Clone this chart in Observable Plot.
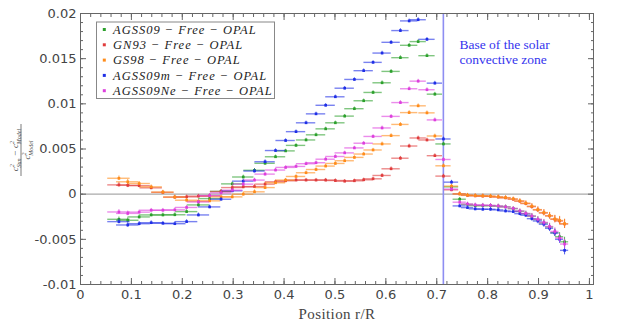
<!DOCTYPE html>
<html>
<head>
<meta charset="utf-8">
<script src="https://cdn.jsdelivr.net/npm/d3@7"></script>
<script src="https://cdn.jsdelivr.net/npm/@observablehq/plot@0.6"></script>
<style>
  html, body { margin: 0; padding: 0; background: #fff; }
  #chart { width: 623px; height: 322px; }
</style>
</head>
<body>
<div id="chart"></div>
<script>
// ---- data ----
const radius = [0.0755,0.0928,0.1153,0.1389,0.1619,0.1853,0.2085,0.2317,0.2537,0.2762,
  0.2982,0.3198,0.3419,0.3627,0.3832,0.4030,0.4235,0.4432,0.4628,0.4817,
  0.5008,0.5191,0.5382,0.5564,0.5749,0.5926,0.6103,0.6286,0.6458,0.6635,
  0.6808,0.6963,0.7132,0.7290,0.7451,0.7604,0.7756,0.7905,0.8057,0.8208,
  0.8352,0.8503,0.8633,0.8751,0.8869,0.8987,0.9105,0.9217,0.9321,0.9414,0.9512];

const agss09 = [-0.00278,-0.00289,-0.00252,-0.00230,-0.00230,-0.00228,-0.00193,-0.00119,-0.00049,0.00031,
  0.00114,0.00190,0.00264,0.00342,0.00414,0.00479,0.00540,0.00600,0.00657,0.00723,
  0.00790,0.00864,0.00946,0.01034,0.01126,0.01233,0.01359,0.01511,0.01648,0.01689,
  0.01533,0.01107,0.00556,0.00081,-0.00056,-0.00113,-0.00127,-0.00127,-0.00127,-0.00133,
  -0.00141,-0.00160,-0.00189,-0.00216,-0.00244,-0.00282,-0.00319,-0.00363,-0.00427,-0.00471,-0.00527];

const gn93 = [0.00103,0.00098,0.00094,0.00070,0.00020,-0.00033,-0.00030,-0.00022,-0.00019,0.00029,
  0.00073,0.00081,0.00084,0.00111,0.00137,0.00148,0.00156,0.00156,0.00156,0.00156,
  0.00151,0.00144,0.00148,0.00159,0.00170,0.00207,0.00281,0.00398,0.00533,0.00622,
  0.00600,0.00426,0.00200,0.00048,0.00003,-0.00013,-0.00019,-0.00021,-0.00024,-0.00032,
  -0.00041,-0.00056,-0.00078,-0.00104,-0.00138,-0.00174,-0.00208,-0.00241,-0.00278,-0.00297,-0.00330];

const gs98 = [0.00176,0.00137,0.00118,0.00081,0.00023,-0.00032,-0.00067,-0.00080,-0.00074,-0.00030,
  -0.00030,0.00000,0.00026,0.00073,0.00126,0.00156,0.00196,0.00237,0.00273,0.00311,
  0.00340,0.00370,0.00407,0.00444,0.00489,0.00556,0.00648,0.00772,0.00903,0.00978,
  0.00900,0.00644,0.00314,0.00089,0.00003,-0.00011,-0.00016,-0.00019,-0.00022,-0.00030,
  -0.00038,-0.00052,-0.00074,-0.00100,-0.00133,-0.00171,-0.00204,-0.00238,-0.00274,-0.00291,-0.00327];

const agss09m = [-0.00304,-0.00341,-0.00327,-0.00316,-0.00322,-0.00327,-0.00304,-0.00230,-0.00141,-0.00056,
  0.00037,0.00144,0.00256,0.00359,0.00483,0.00594,0.00692,0.00790,0.00889,0.00984,
  0.01078,0.01173,0.01270,0.01367,0.01459,0.01562,0.01681,0.01811,0.01918,0.01931,
  0.01714,0.01229,0.00611,0.00133,-0.00130,-0.00149,-0.00163,-0.00167,-0.00167,-0.00174,
  -0.00186,-0.00193,-0.00216,-0.00233,-0.00271,-0.00297,-0.00333,-0.00378,-0.00430,-0.00500,-0.00622];

const agss09ne = [-0.00197,-0.00213,-0.00199,-0.00178,-0.00178,-0.00174,-0.00147,-0.00086,-0.00016,0.00014,
  0.00044,0.00111,0.00156,0.00222,0.00267,0.00296,0.00307,0.00337,0.00348,0.00387,
  0.00417,0.00457,0.00512,0.00564,0.00639,0.00733,0.00861,0.01014,0.01167,0.01251,
  0.01156,0.00822,0.00384,0.00056,-0.00089,-0.00108,-0.00119,-0.00122,-0.00124,-0.00130,
  -0.00141,-0.00158,-0.00186,-0.00213,-0.00241,-0.00278,-0.00313,-0.00358,-0.00413,-0.00486,-0.00552];

// horizontal (radius) and vertical (c^2) error half-widths
const radiusErr = [0.022,0.022,0.022,0.022,0.022,0.022,0.022,0.022,0.022,0.021,
  0.021,0.021,0.021,0.020,0.020,0.019,0.019,0.019,0.019,0.019,
  0.019,0.019,0.019,0.019,0.018,0.018,0.018,0.017,0.017,0.016,
  0.016,0.015,0.015,0.014,0.013,0.012,0.012,0.012,0.011,0.011,
  0.011,0.010,0.010,0.010,0.009,0.009,0.009,0.008,0.008,0.008,0.008];
const c2Err = [0.00025,0.00025,0.00022,0.0002,0.0002,0.0002,0.0002,0.0002,0.0002,0.0002,
  0.0002,0.0002,0.0002,0.0002,0.00018,0.00018,0.00018,0.00018,0.00018,0.00018,
  0.00018,0.00018,0.00018,0.00018,0.00018,0.0002,0.0002,0.0002,0.0002,0.0002,
  0.0002,0.0002,0.0002,0.0002,0.0002,0.0002,0.0002,0.0002,0.0002,0.0002,
  0.0002,0.0002,0.00022,0.00025,0.00028,0.0003,0.00033,0.00036,0.0004,0.00045,0.0005];

const seriesNames = ["AGSS09 − Free − OPAL", "GN93 − Free − OPAL", "GS98 − Free − OPAL",
  "AGSS09m − Free − OPAL", "AGSS09Ne − Free − OPAL"];
const seriesValues = [agss09, gn93, gs98, agss09m, agss09ne];
const seriesColors = ["#2ca02c", "#e03c3c", "#ff8c1a", "#1f2fe6", "#dd3fdd"];

const xTicks = [0, 0.1, 0.2, 0.3, 0.4, 0.5, 0.6, 0.7, 0.8, 0.9, 1];
const yTicks = [-0.01, -0.005, 0, 0.005, 0.01, 0.015, 0.02];
const xMinor = d3.range(0, 1.001, 0.02);
const yMinor = d3.range(-0.01, 0.02001, 0.001);
const convectiveBase = [0.713];
const annotation = [{x: 0.7447, y: 0.0158, text: "Base of the solar\nconvective zone"}];

// ---- build rows ----
const rows = [];
seriesNames.forEach((name, s) => {
  seriesValues[s].forEach((v, i) => {
    rows.push({series: name, r: radius[i], c: v, dr: radiusErr[i], dc: c2Err[i]});
  });
});

const axisColor = "#666";
const marks = [
  Plot.ruleY([0], {stroke: "#aaaaaa", strokeWidth: 1.2}),
  Plot.ruleX(convectiveBase, {stroke: "#8e8ef2", strokeWidth: 1.6})
];
seriesNames.forEach((name) => {
  const d = rows.filter(r => r.series === name);
  marks.push(
    Plot.ruleY(d, {y: "c", x1: r => r.r - r.dr, x2: r => r.r + r.dr, stroke: "series", strokeWidth: 1.4, strokeOpacity: 0.6}),
    Plot.ruleX(d, {x: "r", y1: r => r.c - r.dc, y2: r => r.c + r.dc, stroke: "series", strokeWidth: 1, strokeOpacity: 0.8}),
    Plot.dot(d, {x: "r", y: "c", symbol: "square", r: 1.5, fill: "series", stroke: "none"})
  );
});
marks.push(
  Plot.text(annotation, {x: "x", y: "y", text: "text", textAnchor: "start", lineHeight: 1.12,
    fill: "#3434ee", fontFamily: "Liberation Serif", fontSize: 13.5}),
  Plot.frame({stroke: axisColor}),
  // major ticks (inward, all four sides)
  Plot.axisX(xTicks, {anchor: "bottom", tickSize: 6, dy: -6, fill: "none", label: null, stroke: axisColor}),
  Plot.axisX(xTicks, {anchor: "top", tickSize: 6, dy: 6, fill: "none", label: null, stroke: axisColor}),
  Plot.axisY(yTicks, {anchor: "left", tickSize: 6, dx: 6, fill: "none", label: null, stroke: axisColor}),
  Plot.axisY(yTicks, {anchor: "right", tickSize: 6, dx: -6, fill: "none", label: null, stroke: axisColor}),
  // minor ticks
  Plot.axisX(xMinor, {anchor: "bottom", tickSize: 3, dy: -3, fill: "none", label: null, stroke: axisColor}),
  Plot.axisX(xMinor, {anchor: "top", tickSize: 3, dy: 3, fill: "none", label: null, stroke: axisColor}),
  Plot.axisY(yMinor, {anchor: "left", tickSize: 3, dx: 3, fill: "none", label: null, stroke: axisColor}),
  Plot.axisY(yMinor, {anchor: "right", tickSize: 3, dx: -3, fill: "none", label: null, stroke: axisColor}),
  // tick labels
  Plot.axisX(xTicks, {anchor: "bottom", tickSize: 0, tickPadding: 5, tickFormat: d => String(d), label: null, fill: "#444"}),
  Plot.axisY(yTicks, {anchor: "left", tickSize: 0, tickPadding: 4, tickFormat: d => String(d), label: null, fill: "#444"})
);

const plot = Plot.plot({
  width: 623,
  height: 322,
  marginLeft: 80,
  marginRight: 30,
  marginTop: 13,
  marginBottom: 38,
  x: {domain: [0, 1.008]},
  y: {domain: [-0.01, 0.02]},
  color: {domain: seriesNames, range: seriesColors},
  style: {fontFamily: "DejaVu Sans", fontSize: "13px", background: "#fff", overflow: "visible"},
  marks
});
document.getElementById("chart").appendChild(plot);

// ---- decorations: axis titles and legend ----
const svg = d3.select(plot);
const serif = "Liberation Serif";

// x axis title
svg.append("text")
  .attr("x", 337).attr("y", 319)
  .attr("text-anchor", "middle")
  .attr("font-family", serif).attr("font-size", 15)
  .attr("letter-spacing", 0.4)
  .attr("fill", "#444")
  .text("Position r/R");

// y axis title as a fraction
const yl = svg.append("g").attr("transform", "translate(21,150) rotate(-90)")
  .attr("font-family", serif).attr("font-style", "italic").attr("fill", "#444");
const num = yl.append("text").attr("x", 0).attr("y", -3).attr("text-anchor", "middle").attr("font-size", 9);
num.append("tspan").text("c");
num.append("tspan").attr("font-size", 6).attr("dy", -4).text("2");
num.append("tspan").attr("font-size", 6).attr("dx", -3.3).attr("dy", 6.5).text("Sun");
num.append("tspan").attr("dy", -2.5).text(" − c");
num.append("tspan").attr("font-size", 6).attr("dy", -4).text("2");
num.append("tspan").attr("font-size", 6).attr("dx", -3.3).attr("dy", 6.5).text("Model");
yl.append("line").attr("x1", -26).attr("x2", 26).attr("y1", 0).attr("y2", 0)
  .attr("stroke", "#444").attr("stroke-width", 0.7);
const den = yl.append("text").attr("x", 0).attr("y", 9).attr("text-anchor", "middle").attr("font-size", 9);
den.append("tspan").text("c");
den.append("tspan").attr("font-size", 6).attr("dy", -4).text("2");
den.append("tspan").attr("font-size", 6).attr("dx", -3.3).attr("dy", 6.5).text("Model");

// legend
const lg = svg.append("g").attr("text-anchor", "start");
lg.append("rect").attr("x", 96.5).attr("y", 22).attr("width", 178).attr("height", 76.5)
  .attr("fill", "#fff").attr("stroke", "#888").attr("stroke-width", 1);
const entryY = [29.5, 44.8, 60.1, 75.4, 90.7];
let k = null;
seriesNames.forEach((name, i) => {
  lg.append("rect").attr("x", 102.8).attr("y", entryY[i] - 1.5).attr("width", 3).attr("height", 3)
    .attr("fill", seriesColors[i]);
  const t = lg.append("text").attr("x", 113).attr("y", entryY[i] + 4.3)
    .attr("text-anchor", "start")
    .attr("font-family", serif).attr("font-style", "italic").attr("font-size", 12.5)
    .attr("fill", "#222").text(name);
  const w = t.node().getComputedTextLength();
  if (k === null) k = 142.7 / w;
  t.attr("textLength", w * k).attr("lengthAdjust", "spacing");
});
</script>
</body>
</html>
